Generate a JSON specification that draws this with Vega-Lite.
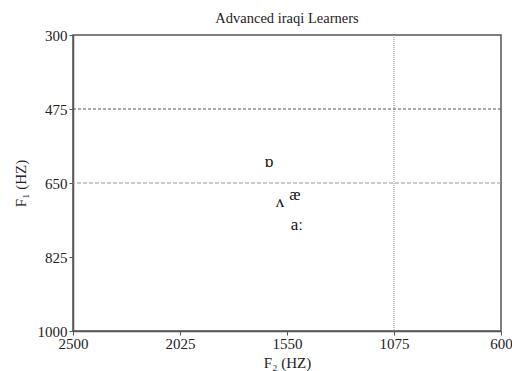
{
  "$schema": "https://vega.github.io/schema/vega-lite/v6.json",
  "width": 428,
  "height": 296,
  "autosize": {"type": "none"},
  "padding": {"left": 73, "top": 35, "right": 11, "bottom": 40},
  "background": "white",
  "config": {
    "font": "Liberation Serif",
    "view": {"stroke": "#555555", "strokeWidth": 1.5},
    "axis": {
      "grid": false,
      "domainColor": "#555555",
      "domainWidth": 1.5,
      "tickColor": "#555555",
      "tickSize": 4,
      "format": "d",
      "labelFlush": false,
      "labelFont": "Liberation Serif",
      "labelFontSize": 15,
      "labelColor": "#222222",
      "titleFont": "Liberation Serif",
      "titleFontSize": 15,
      "titleFontWeight": "normal",
      "titleColor": "#222222"
    }
  },
  "title": {
    "text": "Advanced iraqi Learners",
    "font": "Liberation Serif",
    "fontSize": 14.5,
    "fontWeight": "normal",
    "color": "#222222",
    "offset": 2
  },
  "datasets": {
    "vowels": [
      {"vowel": "ɒ", "F1": 600, "F2": 1630},
      {"vowel": "æ", "F1": 678, "F2": 1515},
      {"vowel": "ʌ", "F1": 695, "F2": 1581},
      {"vowel": "aː", "F1": 749, "F2": 1506}
    ],
    "hlines": [
      {"F1": 475},
      {"F1": 650}
    ],
    "vlines": [
      {"F2": 1075}
    ]
  },
  "layer": [
    {
      "data": {"name": "hlines"},
      "transform": [{"filter": "datum.F1 == 475"}],
      "mark": {"type": "rule", "color": "#555555", "strokeWidth": 1, "strokeDash": [3, 2]},
      "encoding": {
        "y": {
          "field": "F1",
          "type": "quantitative",
          "scale": {"domain": [300, 1000], "reverse": true, "nice": false, "zero": false},
          "axis": {"values": [300, 475, 650, 825, 1000], "title": "F₁ (HZ)", "titlePadding": 9, "labelPadding": 2}
        }
      }
    },
    {
      "data": {"name": "hlines"},
      "transform": [{"filter": "datum.F1 == 650"}],
      "mark": {"type": "rule", "color": "#999999", "strokeWidth": 1, "strokeDash": [4, 2]},
      "encoding": {
        "y": {"field": "F1", "type": "quantitative"}
      }
    },
    {
      "data": {"name": "vlines"},
      "mark": {"type": "rule", "color": "#888888", "strokeWidth": 1, "strokeDash": [1, 1]},
      "encoding": {
        "x": {
          "field": "F2",
          "type": "quantitative",
          "scale": {"domain": [600, 2500], "reverse": true, "nice": false, "zero": false},
          "axis": {"values": [2500, 2025, 1550, 1075, 600], "title": "F₂ (HZ)", "titlePadding": 4, "labelPadding": 1}
        }
      }
    },
    {
      "data": {"name": "vowels"},
      "mark": {"type": "text", "font": "Liberation Serif", "fontSize": 17, "color": "#111111", "baseline": "middle", "align": "center"},
      "encoding": {
        "x": {"field": "F2", "type": "quantitative"},
        "y": {"field": "F1", "type": "quantitative"},
        "text": {"field": "vowel", "type": "nominal"}
      }
    }
  ]
}
